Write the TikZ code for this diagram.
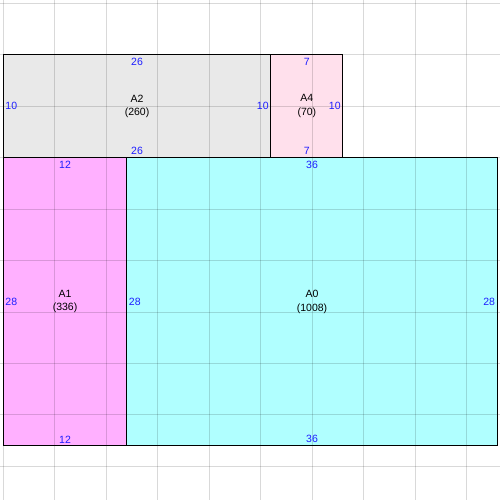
\documentclass[tikz,border=0pt]{standalone}
\usepackage{fontspec}
\setmainfont{Liberation Sans}
\definecolor{cA0}{RGB}{176,255,255}
\definecolor{cA1}{RGB}{255,176,255}
\definecolor{cA2}{RGB}{233,233,233}
\definecolor{cA4}{RGB}{255,224,236}
\definecolor{dimblue}{RGB}{30,30,255}
\begin{document}
\begin{tikzpicture}[x=10.29pt,y=10.29pt,
  box/.style={draw=black,line width=1pt,anchor=south west,inner sep=0,outer sep=0},
  gridline/.style={black,opacity=0.15,line width=0.8pt},
  dim/.style={text=dimblue,inner sep=0,font=\fontsize{10.5}{12}\selectfont},
  namelbl/.style={align=center,inner sep=0,font=\fontsize{10.5}{13.5}\selectfont}]
\useasboundingbox (-0.32,-5.27) rectangle (48.27,43.32);
% rectangles
\node[box,fill=cA0,minimum width=370.44pt,minimum height=288.12pt] (A0) at (12,0) {};
\node[box,fill=cA1,minimum width=123.48pt,minimum height=288.12pt] (A1) at (0,0) {};
\node[box,fill=cA2,minimum width=267.54pt,minimum height=102.9pt] (A2) at (0,28) {};
\node[box,fill=cA4,minimum width=72.03pt,minimum height=102.9pt] (A4) at (26,28) {};
% grid
\foreach \x in {0,5,...,45} \draw[gridline] (\x,-5.27) -- (\x,43.32);
\foreach \y in {-2,3,...,43} \draw[gridline] (-0.32,\y) -- (48.27,\y);
% A2 labels
\node[dim,anchor=north,yshift=-3pt] (A2t) at (A2.north) {26};
\node[dim,anchor=south,yshift=2.5pt] (A2b) at (A2.south) {26};
\node[dim,anchor=west,xshift=2pt] (A2l) at (A2.west) {10};
\node[dim,anchor=east,xshift=-2pt] (A2r) at (A2.east) {10};
\node[namelbl] (A2n) at (A2.center) {A2\\(260)};
% A4 labels
\node[dim,anchor=north,yshift=-3pt] (A4t) at (A4.north) {7};
\node[dim,anchor=south,yshift=2.5pt] (A4b) at (A4.south) {7};
\node[dim,anchor=east,xshift=-2pt] (A4r) at (A4.east) {10};
\node[namelbl] (A4n) at (A4.center) {A4\\(70)};
% A1 labels
\node[dim,anchor=north,yshift=-3pt] (A1t) at (A1.north) {12};
\node[dim,anchor=south,yshift=2.5pt] (A1b) at (A1.south) {12};
\node[dim,anchor=west,xshift=2pt] (A1l) at (A1.west) {28};
\node[namelbl] (A1n) at (A1.center) {A1\\(336)};
% A0 labels
\node[dim,anchor=north,yshift=-3pt] (A0t) at (A0.north) {36};
\node[dim,anchor=south,yshift=2.5pt] (A0b) at (A0.south) {36};
\node[dim,anchor=west,xshift=2pt] (A0l) at (A0.west) {28};
\node[dim,anchor=east,xshift=-2pt] (A0r) at (A0.east) {28};
\node[namelbl] (A0n) at (A0.center) {A0\\(1008)};
\end{tikzpicture}
\end{document}
